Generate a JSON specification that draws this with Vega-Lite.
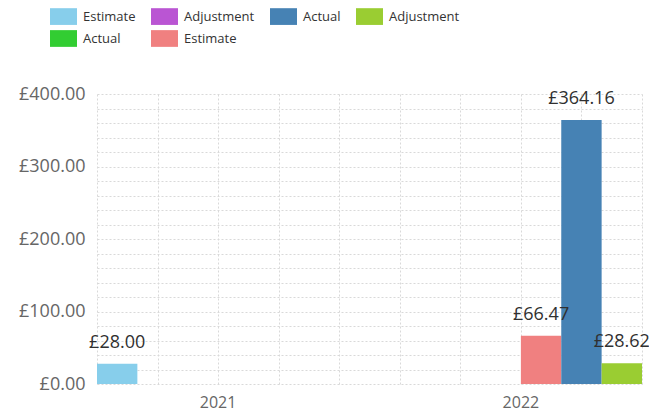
{
  "$schema": "https://vega.github.io/schema/vega-lite/v6.json",
  "autosize": "none",
  "width": 545,
  "height": 290,
  "padding": {"left": 97, "top": 94, "right": 7, "bottom": 34},
  "background": "white",
  "config": {
    "view": {"stroke": null},
    "font": "Open Sans",
    "locale": {"number": {"decimal": ".", "thousands": ",", "grouping": [3], "currency": ["£", ""]}},
    "axis": {"labelFont": "Open Sans", "labelColor": "#666666", "labelFontSize": 16, "gridColor": "#d9d9d9", "gridDash": [2, 2], "gridWidth": 1, "domain": false, "ticks": false, "tickSize": 0, "title": null}
  },
  "data": {"values": [
    {"year": "2021", "series": "A Estimate", "amount": 28.00},
    {"year": "2022", "series": "B Estimate", "amount": 66.47},
    {"year": "2022", "series": "B Actual", "amount": 364.16},
    {"year": "2022", "series": "B Adjustment", "amount": 28.62}
  ]},
  "layer": [
    {
      "mark": {"type": "rule", "opacity": 0},
      "encoding": {
        "x": {"datum": 0, "type": "quantitative", "scale": {"domain": [0, 9], "nice": false, "zero": false},
              "axis": {"orient": "top", "grid": true, "labels": false, "values": [0,1,2,3,4,5,6,7,8,9], "domain": false, "ticks": false}}
      }
    },
    {
      "encoding": {
        "x": {"field": "year", "type": "nominal", "scale": {"paddingInner": 0.2, "paddingOuter": 0},
              "axis": {"labelAngle": 0, "labelPadding": 10, "labelFontSize": 16, "grid": false}},
        "xOffset": {"field": "series", "type": "nominal",
                    "scale": {"domain": ["A Estimate", "A Adjustment", "A Actual", "B Estimate", "B Actual", "B Adjustment"], "paddingInner": 0, "paddingOuter": 0}},
        "y": {"field": "amount", "type": "quantitative", "scale": {"domain": [0, 400], "nice": false},
              "axis": {"values": [0,20,40,60,80,100,120,140,160,180,200,220,240,260,280,300,320,340,360,380,400], "grid": true, "labelPadding": 12, "labelFontSize": 18, "labelOverlap": false,
                       "labelExpr": "datum.value % 100 === 0 ? '£' + format(datum.value, '.2f') : ''"}}
      },
      "layer": [
        {
          "mark": {"type": "bar"},
          "encoding": {
            "color": {"field": "series", "type": "nominal",
                      "scale": {"domain": ["A Estimate", "A Adjustment", "B Actual", "B Adjustment", "A Actual", "B Estimate"],
                                "range": ["#87CEEB", "#BA55D3", "#4682B4", "#9ACD32", "#32CD32", "#F08080"]},
                      "legend": {"orient": "none", "legendX": -47, "legendY": -91, "direction": "horizontal", "columns": 4, "title": null,
                                 "symbolType": "M-1,-0.62L1,-0.62L1,0.62L-1,0.62Z", "symbolSize": 729, "symbolStrokeWidth": 0, "symbolOpacity": 1,
                                 "labelFont": "Open Sans", "labelFontSize": 13, "labelColor": "#333333", "labelOffset": 6, "columnPadding": 15, "rowPadding": 0,
                                 "labelExpr": "substring(datum.label, 2)"}}
          }
        },
        {
          "mark": {"type": "text", "baseline": "alphabetic", "dy": -16, "fontSize": 18, "color": "#303030", "font": "Open Sans"},
          "encoding": {
            "text": {"field": "amount", "type": "quantitative", "format": "$.2f"}
          }
        }
      ]
    }
  ],
  "resolve": {"scale": {"x": "independent"}, "axis": {"x": "independent"}}
}
